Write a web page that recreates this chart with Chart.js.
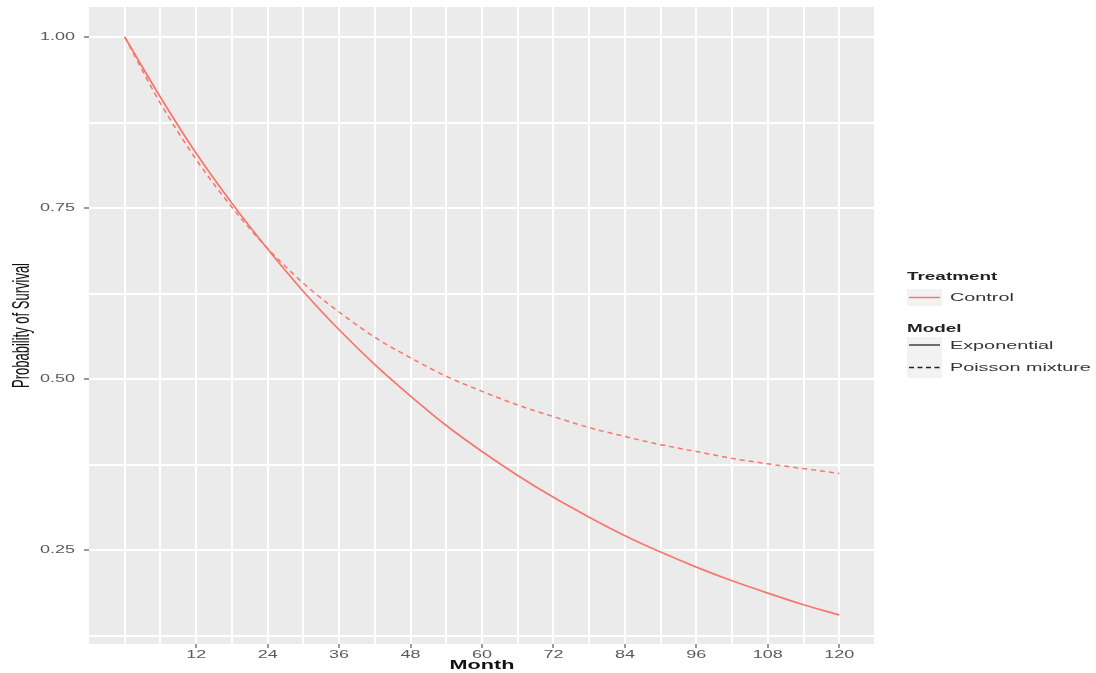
<!DOCTYPE html>
<html>
<head>
<meta charset="utf-8">
<script src="https://cdn.jsdelivr.net/npm/chart.js@4.4.1/dist/chart.umd.min.js"></script>
<style>
  html, body { margin: 0; padding: 0; background: #ffffff; }
  #wrap { width: 1096px; height: 673px; }
</style>
</head>
<body>
<div id="wrap"><canvas id="c" width="1096" height="673"></canvas></div>
<script>
// ---- data ----
const months = [0, 6, 12, 18, 24, 30, 36, 42, 48, 54, 60, 66, 72, 78, 84, 90, 96, 102, 108, 114, 120];
const exponential = [1.000, 0.912, 0.830, 0.757, 0.690, 0.628, 0.572, 0.521, 0.475, 0.432, 0.394, 0.359, 0.327, 0.298, 0.271, 0.247, 0.225, 0.205, 0.187, 0.170, 0.155];
const poissonMixture = [1.000, 0.903, 0.821, 0.751, 0.691, 0.640, 0.598, 0.561, 0.531, 0.504, 0.482, 0.462, 0.445, 0.429, 0.416, 0.404, 0.394, 0.384, 0.376, 0.369, 0.362];
const xTickLabels = [12, 24, 36, 48, 60, 72, 84, 96, 108, 120];
const yTickLabels = [0.25, 0.50, 0.75, 1.00];
const xGridValues = [0, 6, 12, 18, 24, 30, 36, 42, 48, 54, 60, 66, 72, 78, 84, 90, 96, 102, 108, 114, 120, 126];
const yGridValues = [0.125, 0.25, 0.375, 0.5, 0.625, 0.75, 0.875, 1.0];
const treatmentLabel = 'Treatment';
const treatmentItems = ['Control'];
const modelLabel = 'Model';
const modelItems = ['Exponential', 'Poisson mixture'];

const PINK = '#F8766D';
const FONT = "'Liberation Sans', Arial, sans-serif";
const STRETCH = 1.8;

const canvas = document.getElementById('c');
const ctx = canvas.getContext('2d');

// the reference text is horizontally stretched; reproduce that on every text draw
const origFillText = ctx.fillText;
ctx.fillText = function (text, x, y, maxWidth) {
  const m = this.getTransform();
  this.save();
  this.translate(x, y);
  if (Math.abs(m.b) > 0.01) this.scale(1, STRETCH); else this.scale(STRETCH, 1);
  if (maxWidth === undefined) origFillText.call(this, text, 0, 0);
  else origFillText.call(this, text, 0, 0, maxWidth * 4);
  this.restore();
};

const panelBg = {
  id: 'panelBg',
  beforeDraw(chart) {
    const a = chart.chartArea, c = chart.ctx;
    c.save();
    c.fillStyle = '#EBEBEB';
    c.fillRect(a.left, a.top, a.right - a.left, a.bottom - a.top);
    c.restore();
  }
};

const legendPlugin = {
  id: 'ggLegend',
  afterDraw(chart) {
    const c = chart.ctx;
    const x0 = 907;
    c.save();
    c.textBaseline = 'middle';
    c.textAlign = 'left';
    // Treatment
    c.fillStyle = '#222';
    c.font = 'bold 10.5px ' + FONT;
    c.fillText(treatmentLabel, x0, 277.5);
    c.fillStyle = '#F2F2F2';
    c.fillRect(x0, 289, 35, 17);
    c.strokeStyle = PINK; c.lineWidth = 1.4; c.setLineDash([]);
    c.beginPath(); c.moveTo(x0 + 2, 297.5); c.lineTo(x0 + 33, 297.5); c.stroke();
    c.fillStyle = '#333';
    c.font = '11px ' + FONT;
    c.fillText(treatmentItems[0], x0 + 43, 297.5);
    // Model
    c.fillStyle = '#222';
    c.font = 'bold 10.5px ' + FONT;
    c.fillText(modelLabel, x0, 329.5);
    c.fillStyle = '#F2F2F2';
    c.fillRect(x0, 337, 35, 41);
    c.strokeStyle = '#222'; c.lineWidth = 1.3;
    c.beginPath(); c.moveTo(x0 + 2, 345); c.lineTo(x0 + 33, 345); c.stroke();
    c.setLineDash([5, 3.5]);
    c.beginPath(); c.moveTo(x0 + 2, 367.5); c.lineTo(x0 + 33, 367.5); c.stroke();
    c.setLineDash([]);
    c.fillStyle = '#333';
    c.font = '11px ' + FONT;
    c.fillText(modelItems[0], x0 + 43, 345.5);
    c.fillText(modelItems[1], x0 + 43, 367.5);
    c.restore();
  }
};

const toPoints = (ys) => months.map((m, i) => ({ x: m, y: ys[i] }));

new Chart(ctx, {
  type: 'line',
  data: {
    datasets: [
      {
        label: 'Exponential',
        data: toPoints(exponential),
        borderColor: PINK,
        borderWidth: 1.7,
        pointRadius: 0,
        fill: false,
        cubicInterpolationMode: 'monotone'
      },
      {
        label: 'Poisson mixture',
        data: toPoints(poissonMixture),
        borderColor: PINK,
        borderWidth: 1.5,
        borderDash: [5, 4],
        pointRadius: 0,
        fill: false,
        cubicInterpolationMode: 'monotone'
      }
    ]
  },
  options: {
    responsive: false,
    animation: false,
    devicePixelRatio: 1,
    layout: { padding: { top: 7, right: 221, bottom: 0, left: 0 } },
    plugins: { legend: { display: false }, tooltip: { enabled: false } },
    scales: {
      x: {
        type: 'linear',
        min: -6,
        max: 126,
        afterBuildTicks(scale) { scale.ticks = xGridValues.map(v => ({ value: v })); },
        afterFit(scale) { scale.height = 29; scale.paddingLeft = 0; scale.paddingRight = 0; },
        border: { display: false },
        grid: {
          color: '#FFFFFF',
          lineWidth: 2,
          drawTicks: true,
          tickLength: 4,
          tickWidth: 1.2,
          tickColor: (c) => (c.tick && xTickLabels.includes(c.tick.value)) ? '#555' : 'rgba(0,0,0,0)'
        },
        ticks: {
          autoSkip: false,
          maxRotation: 0,
          padding: 1,
          color: '#5a5a5a',
          font: { family: FONT, size: 10 },
          callback: (v) => xTickLabels.includes(v) ? String(v) : ''
        },
        title: {
          display: true,
          text: 'Month',
          color: '#111',
          font: { family: FONT, size: 12, weight: 'bold' },
          padding: { top: 0, bottom: 0 }
        }
      },
      y: {
        type: 'linear',
        min: 0.1126,
        max: 1.0439,
        afterBuildTicks(scale) { scale.ticks = yGridValues.map(v => ({ value: v })); },
        afterFit(scale) { scale.width = 89; scale.paddingTop = 0; scale.paddingBottom = 0; },
        border: { display: false },
        grid: {
          color: '#FFFFFF',
          lineWidth: 2,
          drawTicks: true,
          tickLength: 5,
          tickWidth: 1.2,
          tickColor: (c) => (c.tick && yTickLabels.some(t => Math.abs(t - c.tick.value) < 1e-9)) ? '#555' : 'rgba(0,0,0,0)'
        },
        ticks: {
          autoSkip: false,
          padding: 9,
          color: '#5a5a5a',
          font: { family: FONT, size: 10 },
          callback: (v) => yTickLabels.some(t => Math.abs(t - v) < 1e-9) ? v.toFixed(2) : ''
        },
        title: {
          display: true,
          text: 'Probability of Survival',
          color: '#111',
          font: { family: FONT, size: 13 },
          padding: { top: 15, bottom: 0 }
        }
      }
    }
  },
  plugins: [panelBg, legendPlugin]
});
</script>
</body>
</html>
